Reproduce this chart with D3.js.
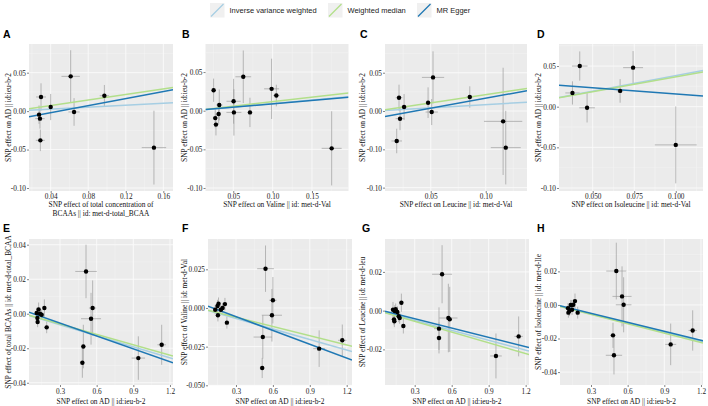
<!DOCTYPE html>
<html><head><meta charset="utf-8">
<script src="https://cdn.jsdelivr.net/npm/d3@7"></script>
<style>
body{margin:0;background:#fff;}
svg{display:block;}
</style></head>
<body><svg id="c" width="708" height="406"></svg>
<script>
// ---------- data ----------
const panelLabels = ["A","B","C","D","E","F","G","H"];
const methods = ["Inverse variance weighted","Weighted median","MR Egger"];
const methodColors = ["#A6CEE3","#B2DF8A","#1F78B4"];

// SNP effects per panel: x, y, x se, y se
const xA=[0.0297,0.040,0.0276,0.0286,0.029,0.0613,0.0649,0.0972,0.150];
const yA=[0.0184,0.0053,-0.0046,-0.0098,-0.038,0.0452,-0.0011,0.020,-0.0475];
const xseA=[0.0053,0.002,0.002,0.005,0.0048,0.0098,0.006,0.005,0.013];
const yseA=[0.0178,0.017,0.012,0.013,0.014,0.034,0.018,0.014,0.048];

const xB=[0.025,0.0271,0.028,0.0322,0.0314,0.0504,0.0508,0.0627,0.0712,0.0987,0.1047,0.175];
const yB=[0.0265,-0.0096,-0.018,0.0074,-0.0043,0.0122,-0.0022,0.0439,-0.0022,0.0283,0.0196,-0.0487];
const xseB=[0.002,0.003,0.003,0.004,0.003,0.009,0.0095,0.010,0.003,0.0095,0.004,0.0127];
const yseB=[0.015,0.012,0.014,0.020,0.013,0.029,0.030,0.034,0.019,0.039,0.014,0.048];

const xC=[0.0212,0.0258,0.0221,0.0191,0.0476,0.0521,0.0509,0.0855,0.1158,0.1182];
const yC=[0.0174,0.0052,-0.010,-0.0391,0.0109,0.0439,-0.0013,0.0183,-0.0135,-0.0478];
const xseC=[0.003,0.003,0.004,0.0048,0.002,0.0101,0.0056,0.003,0.0174,0.0136];
const yseC=[0.017,0.017,0.015,0.016,0.020,0.034,0.017,0.014,0.070,0.048];

const xD=[0.0378,0.0422,0.0466,0.0665,0.0743,0.100];
const yD=[0.0169,0.050,-0.0014,0.0194,0.048,-0.047];
const xseD=[0.0043,0.0047,0.0047,0.002,0.006,0.0126];
const yseD=[0.0143,0.018,0.018,0.0145,0.0204,0.0473];

const xE=[0.109,0.117,0.125,0.136,0.15,0.172,0.191,0.115,0.513,0.567,0.554,0.491,0.483,0.941,1.132];
const yE=[0.0004,-0.0048,0.0025,0.0000,-0.0006,0.0033,-0.0079,-0.0025,0.0245,0.0033,-0.0029,-0.019,-0.0284,-0.0257,-0.018];
const xseE=[0.01,0.01,0.01,0.01,0.012,0.01,0.01,0.01,0.088,0.03,0.082,0.02,0.02,0.055,0.035];
const yseE=[0.003,0.003,0.004,0.003,0.003,0.005,0.0034,0.003,0.0155,0.016,0.015,0.0126,0.0087,0.0126,0.0116];

const xF=[0.15,0.158,0.153,0.177,0.191,0.21,0.226,0.131,0.54,0.60,0.592,0.518,0.513,0.976,1.164];
const yF=[0.0013,0.0028,-0.0047,-0.0011,0.0000,0.0025,-0.0095,-0.0011,0.0254,0.005,-0.0047,-0.0188,-0.0388,-0.0263,-0.0209];
const xseF=[0.01,0.01,0.01,0.01,0.01,0.01,0.01,0.01,0.068,0.03,0.082,0.075,0.02,0.048,0.034];
const yseF=[0.004,0.004,0.004,0.003,0.003,0.004,0.0038,0.003,0.015,0.015,0.017,0.014,0.0065,0.0118,0.0102];

const xG=[0.124,0.138,0.146,0.132,0.135,0.17,0.178,0.192,0.208,0.159,0.522,0.497,0.497,0.573,0.584,0.959,1.143];
const yG=[0.0005,-0.0002,0.0007,-0.0045,-0.0055,-0.0029,-0.0038,0.0041,-0.0079,-0.0007,0.0188,-0.0093,-0.0141,-0.0038,-0.0045,-0.0234,-0.0133];
const xseG=[0.01,0.01,0.01,0.01,0.01,0.01,0.01,0.01,0.01,0.01,0.081,0.04,0.02,0.074,0.02,0.047,0.034];
const yseG=[0.004,0.003,0.003,0.003,0.003,0.003,0.003,0.0047,0.0039,0.003,0.015,0.011,0.008,0.0177,0.0168,0.0116,0.0103];

const xH=[0.112,0.123,0.134,0.115,0.145,0.142,0.155,0.169,0.191,0.507,0.554,0.567,0.48,0.488,0.952,1.132];
const yH=[-0.0019,-0.0036,0.0000,-0.0046,-0.0029,-0.0001,0.0001,0.0023,-0.0046,0.0202,0.0051,0.0001,-0.0181,-0.030,-0.0235,-0.0152];
const xseH=[0.01,0.01,0.01,0.01,0.01,0.01,0.01,0.01,0.01,0.082,0.078,0.064,0.02,0.067,0.045,0.034];
const yseH=[0.003,0.003,0.003,0.003,0.003,0.003,0.003,0.0045,0.0035,0.0169,0.0179,0.0164,0.0075,0.0114,0.0124,0.012];

// MR estimates: slopes (IVW, WM through origin), Egger slope + intercept
const ivwSlope   =[0.0645,0.092,0.084,0.383,-0.0213,-0.0227,-0.017,-0.018];
const wmSlope    =[0.18,0.1165,0.215,0.366,-0.020,-0.0199,-0.0185,-0.0186];
const eggerSlope =[0.2306,0.0873,0.261,-0.153,-0.0248,-0.0297,-0.016,-0.0178];
const eggerInt   =[-0.0114,0.0002,-0.0094,0.0308,0.002,0.0033,0.0006,0.0003];

// axis domains
const xDomains=[[0.0169,0.1703],[0.0147,0.1964],[0.00845,0.1375],[0.0297,0.1164],[0.0463,1.2247],[0.0724,1.243],[0.0591,1.227],[0.0463,1.2165]];
const yDomains=[[-0.1039,0.0873],[-0.1039,0.0863],[-0.1044,0.0875],[-0.1037,0.0771],[-0.0413,0.0433],[-0.0498,0.0446],[-0.0384,0.0370],[-0.0477,0.0393]];

// ticks and tick labels
const xTicks=[[0.04,0.08,0.12,0.16],[0.05,0.10,0.15],[0.05,0.10],[0.050,0.075,0.100],[0.3,0.6,0.9,1.2],[0.3,0.6,0.9,1.2],[0.3,0.6,0.9,1.2],[0.3,0.6,0.9,1.2]];
const xTickLabels=[["0.04","0.08","0.12","0.16"],["0.05","0.10","0.15"],["0.05","0.10"],["0.050","0.075","0.100"],["0.3","0.6","0.9","1.2"],["0.3","0.6","0.9","1.2"],["0.3","0.6","0.9","1.2"],["0.3","0.6","0.9","1.2"]];
const yTicks=[[-0.10,-0.05,0,0.05],[-0.10,-0.05,0,0.05],[-0.10,-0.05,0,0.05],[-0.10,-0.05,0,0.05],[-0.04,-0.02,0,0.02,0.04],[-0.05,-0.025,0,0.025],[-0.02,0,0.02],[-0.04,-0.02,0,0.02]];
const yTickLabels=[["-0.10","-0.05","0.00","0.05"],["-0.10","-0.05","0.00","0.05"],["-0.10","-0.10","0.00","0.05"],["-0.10","-0.05","0.00","0.05"],["-0.04","-0.02","0.00","0.02","0.04"],["-0.050","-0.025","0.000","0.025"],["-0.02","0.00","0.02"],["-0.04","-0.02","0.00","0.02"]];

const xTitles=[["SNP effect of total concentration of","BCAAs || id: met-d-total_BCAA"],["SNP effect on Valine || id: met-d-Val"],["SNP effect on Leucine || id: met-d-Val"],["SNP effect on Isoleucine || id: met-d-Val"],["SNP effect on AD || id:ieu-b-2"],["SNP effect on AD || id:ieu-b-2"],["SNP effect on AD || id:ieu-b-2"],["SNP effect on AD || id:ieu-b-2"]];
const yTitles=["SNP effect on AD || id:ieu-b-2","SNP effect on AD || id:ieu-b-2","SNP effect on AD || id:ieu-b-2","SNP effect on AD || id:ieu-b-2","SNP effect of total BCAAs || id: met-d-total_BCAA","SNP effect of Valine || id: met-d-Val","SNP effect of Leucine || id: met-d-leu","SNP effect of Isoleucine || id: met-d-Ile"];

const xsArr=[xA,xB,xC,xD,xE,xF,xG,xH], ysArr=[yA,yB,yC,yD,yE,yF,yG,yH];
const xseArr=[xseA,xseB,xseC,xseD,xseE,xseF,xseG,xseH], yseArr=[yseA,yseB,yseC,yseD,yseE,yseF,yseG,yseH];

// ---------- layout ----------
const panelX=[[29,173],[205.5,348.5],[385,527],[559,703],[29,173],[208,352],[385,529],[560,703]];
const rowY=[[44,191],[239,385]];
const letterX=[3,182,360,537,3,182,362,537];
const yTitleX=[10.5,186.5,364.5,540.5,10.5,187,364.5,540.5];

const svg=d3.select("#c");
const serif="'Liberation Serif','Times New Roman',serif";
const sans="'Liberation Sans',Arial,sans-serif";
const FT=7.4;   // axis title size
const FK=7.3;   // tick label size

// legend
const legKeyX=[210,328,417];
const lg=svg.append("g");
methods.forEach((m,i)=>{
  const g=lg.append("g").attr("transform",`translate(${legKeyX[i]},3)`);
  g.append("rect").attr("width",14.5).attr("height",14.5).attr("fill","#F0F0F0");
  g.append("line").attr("x1",1).attr("y1",13.5).attr("x2",13.5).attr("y2",1).attr("stroke",methodColors[i]).attr("stroke-width",1.3);
  lg.append("text").attr("x",legKeyX[i]+19.5).attr("y",13).attr("font-family",sans).attr("font-size",7.5).attr("fill","#222").text(m);
});

panelLabels.forEach((lab,i)=>{
  const row=i<4?0:1;
  const [x0,x1]=panelX[i], [y0,y1]=rowY[row];
  const x=d3.scaleLinear().domain(xDomains[i]).range([x0,x1]);
  const y=d3.scaleLinear().domain(yDomains[i]).range([y1,y0]);
  const g=svg.append("g");
  // panel background
  g.append("rect").attr("x",x0).attr("y",y0).attr("width",x1-x0).attr("height",y1-y0).attr("fill","#EBEBEB");
  // grid
  const xt=xTicks[i], yt=yTicks[i];
  const xstep=xt[1]-xt[0], ystep=yt[1]-yt[0];
  const xminor=[], yminor=[];
  for(let v=xt[0]-xstep/2; v<=xDomains[i][1]; v+=xstep) if(v>=xDomains[i][0]) xminor.push(v);
  for(let v=yt[0]-ystep/2; v<=yDomains[i][1]; v+=ystep) if(v>=yDomains[i][0]) yminor.push(v);
  g.selectAll(".xm").data(xminor).enter().append("line").attr("x1",d=>x(d)).attr("x2",d=>x(d)).attr("y1",y0).attr("y2",y1).attr("stroke","#F5F5F5").attr("stroke-width",0.5);
  g.selectAll(".ym").data(yminor).enter().append("line").attr("y1",d=>y(d)).attr("y2",d=>y(d)).attr("x1",x0).attr("x2",x1).attr("stroke","#F5F5F5").attr("stroke-width",0.5);
  g.selectAll(".xg").data(xt).enter().append("line").attr("x1",d=>x(d)).attr("x2",d=>x(d)).attr("y1",y0).attr("y2",y1).attr("stroke","#FAFAFA").attr("stroke-width",0.9);
  g.selectAll(".yg").data(yt).enter().append("line").attr("y1",d=>y(d)).attr("y2",d=>y(d)).attr("x1",x0).attr("x2",x1).attr("stroke","#FAFAFA").attr("stroke-width",0.9);

  // axes
  const xa=d3.axisBottom(x).tickValues(xt).tickFormat((d,k)=>xTickLabels[i][k]).tickSize(2).tickPadding(1);
  const ya=d3.axisLeft(y).tickValues(yt).tickFormat((d,k)=>yTickLabels[i][k]).tickSize(2).tickPadding(1);
  const gx=g.append("g").attr("transform",`translate(0,${y1})`).call(xa);
  const gy=g.append("g").attr("transform",`translate(${x0},0)`).call(ya);
  [gx,gy].forEach(a=>{
    a.select(".domain").remove();
    a.selectAll(".tick line").attr("stroke","#333").attr("stroke-width",0.6);
    a.selectAll("text").attr("font-family",serif).attr("font-size",FK).attr("fill","#222");
  });
  gx.selectAll("text").attr("y",row===0?7.8:9).attr("dy",0);
  gy.selectAll("text").attr("x",-3).attr("dy","0.33em");

  // clip
  const cid="clip"+i;
  svg.append("clipPath").attr("id",cid).append("rect").attr("x",x0).attr("y",y0).attr("width",x1-x0).attr("height",y1-y0);
  const pg=g.append("g").attr("clip-path",`url(#${cid})`);

  const xs=xsArr[i], ys=ysArr[i], xse=xseArr[i], yse=yseArr[i];
  const idx=d3.range(xs.length);
  // error bars
  pg.selectAll(".ev").data(idx).enter().append("line")
    .attr("x1",k=>x(xs[k])).attr("x2",k=>x(xs[k])).attr("y1",k=>y(ys[k]-yse[k])).attr("y2",k=>y(ys[k]+yse[k]))
    .attr("stroke","#9a9a9a").attr("stroke-width",0.8).attr("stroke-opacity",0.85);
  pg.selectAll(".eh").data(idx).enter().append("line")
    .attr("y1",k=>y(ys[k])).attr("y2",k=>y(ys[k])).attr("x1",k=>x(xs[k]-xse[k])).attr("x2",k=>x(xs[k]+xse[k]))
    .attr("stroke","#9a9a9a").attr("stroke-width",0.8).attr("stroke-opacity",0.85);

  // regression lines
  const lines=[[ivwSlope[i],0],[wmSlope[i],0],[eggerSlope[i],eggerInt[i]]];
  const [dx0,dx1]=xDomains[i];
  lines.forEach((l,k)=>{
    pg.append("line").attr("x1",x(dx0)).attr("x2",x(dx1))
      .attr("y1",y(l[1]+l[0]*dx0)).attr("y2",y(l[1]+l[0]*dx1))
      .attr("stroke",methodColors[k]).attr("stroke-width",1.5);
  });

  // points
  pg.selectAll(".pt").data(idx).enter().append("circle")
    .attr("cx",k=>x(xs[k])).attr("cy",k=>y(ys[k])).attr("r",2.2).attr("fill","#000");

  // panel letter
  g.append("text").attr("x",letterX[i]).attr("y",row===0?37.5:231.5).attr("font-family",sans).attr("font-weight","bold")
    .attr("font-size",10.5).attr("fill","#000").text(lab);

  // x title
  const xc=(x0+x1)/2;
  const tb=row===0?207:403.5;
  xTitles[i].forEach((t,k)=>{
    g.append("text").attr("x",xc).attr("y",tb+k*8.6).attr("text-anchor","middle").attr("font-family",serif)
      .attr("font-size",FT).attr("fill","#111").text(t);
  });
  // y title
  const yc=(y0+y1)/2;
  g.append("text").attr("transform",`translate(${yTitleX[i]},${yc}) rotate(-90)`).attr("text-anchor","middle")
    .attr("font-family",serif).attr("font-size",FT).attr("fill","#111").text(yTitles[i]);
});
</script>
</body></html>
